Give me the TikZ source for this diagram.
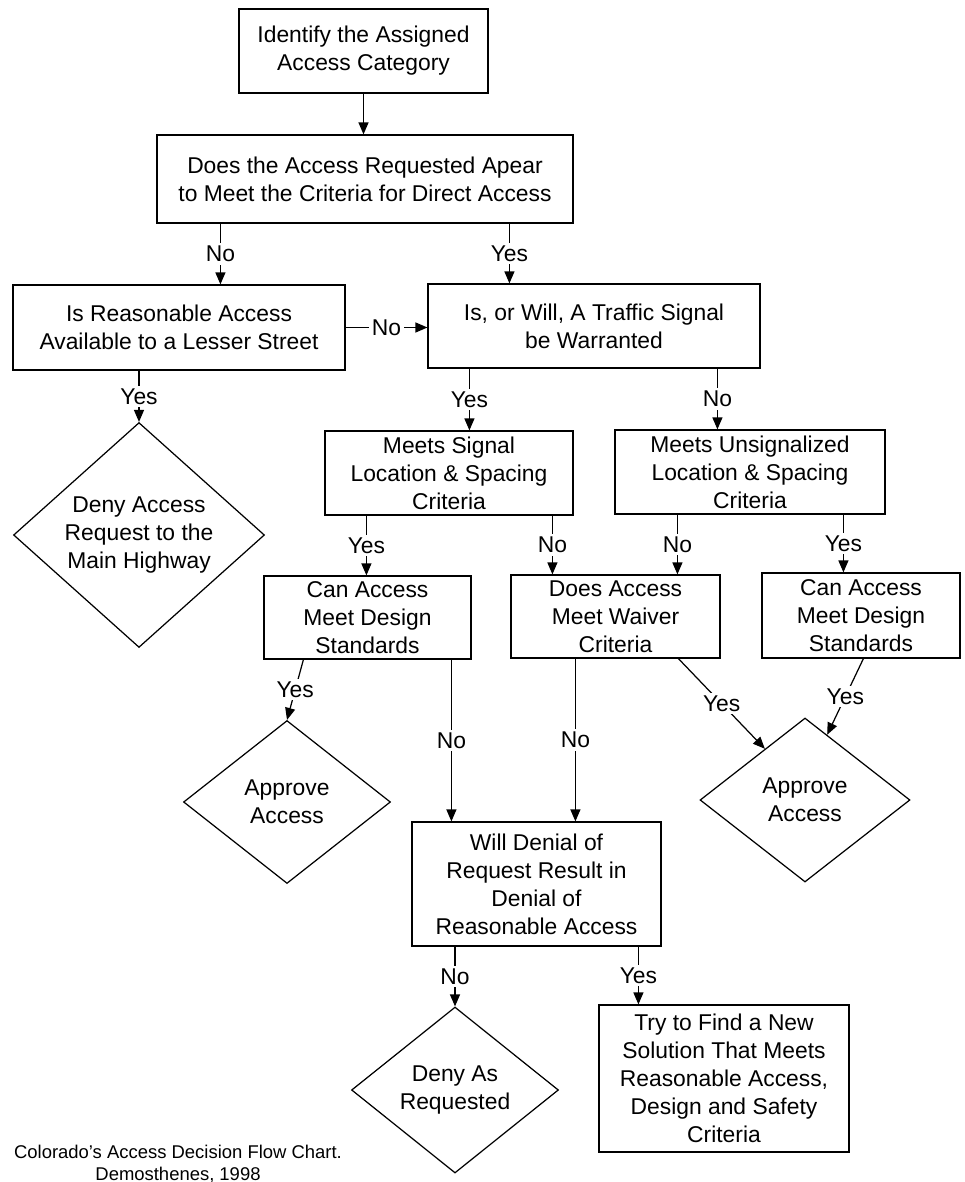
\documentclass[tikz,border=0pt]{standalone}
\usepackage{fontspec}
\setmainfont{Liberation Sans}
\usetikzlibrary{calc,shapes.geometric,arrows.meta}

\tikzset{
  box/.style={draw, line width=0.7pt, align=center, inner sep=0pt},
  choice/.style={draw, diamond, line width=0.7pt, align=center, inner sep=0pt},
  arr/.style={line width=0.7pt, -{Triangle[length=2.4mm,width=2mm]}},
  ans/.style={fill=white, inner sep=1.5pt},
}

\begin{document}
\begin{tikzpicture}[x=0.02cm, y=-0.02cm, font=\fontsize{13}{15.9}\selectfont]
			\useasboundingbox (0,0) rectangle (964,1182);
			
			% boxes
			\node[box, minimum width=4.98cm, minimum height=1.68cm] (ident) at (363.5, 51) {Identify the Assigned\\Access Category};
			\node[box, minimum width=8.32cm, minimum height=1.76cm] (direct) at (365, 179) {Does the Access Requested Apear\\to Meet the Criteria for Direct Access};
			\node[box, minimum width=6.64cm, minimum height=1.70cm] (lesser) at (179, 327.5) {Is Reasonable Access\\Available to a Lesser Street};
			\node[box, minimum width=6.64cm, minimum height=1.68cm] (signal) at (594, 326) {Is, or Will, A Traffic Signal\\be Warranted};
			\node[box, minimum width=4.96cm, minimum height=1.68cm] (meetsig) at (449, 473) {Meets Signal\\Location \& Spacing\\Criteria};
			\node[box, minimum width=5.40cm, minimum height=1.68cm] (meetuns) at (750, 472) {Meets Unsignalized\\Location \& Spacing\\Criteria};
			\node[box, minimum width=4.14cm, minimum height=1.66cm] (designL) at (367.5, 617.5) {Can Access\\Meet Design\\Standards};
			\node[box, minimum width=4.18cm, minimum height=1.66cm] (waiver) at (615.5, 616.5) {Does Access\\Meet Waiver\\Criteria};
			\node[box, minimum width=3.96cm, minimum height=1.70cm] (designR) at (861, 615.5) {Can Access\\Meet Design\\Standards};
			\node[box, minimum width=4.98cm, minimum height=2.48cm] (denial) at (536.5, 884) {Will Denial of\\Request Result in\\Denial of\\Reasonable Access};
			\node[box, minimum width=5.00cm, minimum height=2.94cm] (newsol) at (724, 1078.5) {Try to Find a New\\Solution That Meets\\Reasonable Access,\\Design and Safety\\Criteria};
			
			% diamonds
			\node[choice, minimum width=5.02cm, minimum height=4.14cm] (denyMain) at (139, 535) {Deny Access\\Request to the\\Main Highway};
			\node[choice, minimum width=4.14cm, minimum height=3.26cm] (appL) at (287, 802) {Approve\\Access};
			\node[choice, minimum width=4.20cm, minimum height=3.28cm] (appR) at (805, 800) {Approve\\Access};
			\node[choice, minimum width=4.14cm, minimum height=3.32cm] (denyReq) at (455, 1090) {Deny As\\Requested};
			
			% start points on the box bottoms
			\coordinate (dirNo) at ($(direct.south west)+(64,0)$);
			\coordinate (dirYes) at ($(direct.south west)+(353,0)$);
			\coordinate (sigYes) at ($(signal.south west)+(42,0)$);
			\coordinate (sigNo) at ($(signal.south west)+(290,0)$);
			\coordinate (msYes) at ($(meetsig.south west)+(42,0)$);
			\coordinate (msNo) at ($(meetsig.south west)+(228,0)$);
			\coordinate (muNo) at ($(meetuns.south west)+(63,0)$);
			\coordinate (muYes) at ($(meetuns.south west)+(229,0)$);
			\coordinate (dlYes) at ($(designL.south west)+(40,0)$);
			\coordinate (dlNo) at ($(designL.south west)+(188,0)$);
			\coordinate (wvNo) at ($(waiver.south west)+(65,0)$);
			\coordinate (wvYes) at ($(waiver.south west)+(168,0)$);
			\coordinate (drYes) at ($(designR.south west)+(102,0)$);
			\coordinate (dnYes) at ($(denial.south west)+(227,0)$);
			
			% connectors
			\draw[arr] (ident.south) -- (ident.south |- direct.north);
			\draw[arr] (dirNo) -- node[ans]{No} (dirNo |- lesser.north);
			\draw[arr] (dirYes) -- node[ans]{Yes} (dirYes |- signal.north);
			\draw[arr] (lesser.east) -- node[ans]{No} (lesser.east -| signal.west);
			\draw[arr] (lesser.south -| denyMain.north) -- node[ans]{Yes} (denyMain.north);
			
			\draw[arr] (sigYes) -- node[ans]{Yes} (sigYes |- meetsig.north);
			\draw[arr] (sigNo) -- node[ans]{No} (sigNo |- meetuns.north);
			
			\draw[arr] (msYes) -- node[ans]{Yes} (msYes |- designL.north);
			\draw[arr] (msNo) -- node[ans]{No} (msNo |- waiver.north);
			\draw[arr] (muNo) -- node[ans]{No} (muNo |- waiver.north);
			\draw[arr] (muYes) -- node[ans]{Yes} (muYes |- designR.north);
			
			\draw[arr] (dlYes) -- node[ans]{Yes} (appL.north);
			\draw[arr] (dlNo) -- node[ans]{No} (dlNo |- denial.north);
			\draw[arr] (wvNo) -- node[ans]{No} (wvNo |- denial.north);
			\draw[arr] (wvYes) -- node[ans]{Yes} ($(appR.north)!0.38!(appR.west)$);
			\draw[arr] (drYes) -- node[ans]{Yes} ($(appR.north)!0.21!(appR.east)$);
			
			\draw[arr] (denial.south -| denyReq.north) -- node[ans]{No} (denyReq.north);
			\draw[arr] (dnYes) -- node[ans]{Yes} (dnYes |- newsol.north);
			
			% source line
			\node[font=\fontsize{10.5}{12.5}\selectfont, align=center] (credit) at (178, 1164) {Colorado’s Access Decision Flow Chart.\\Demosthenes, 1998};
		\end{tikzpicture}
\end{document}
